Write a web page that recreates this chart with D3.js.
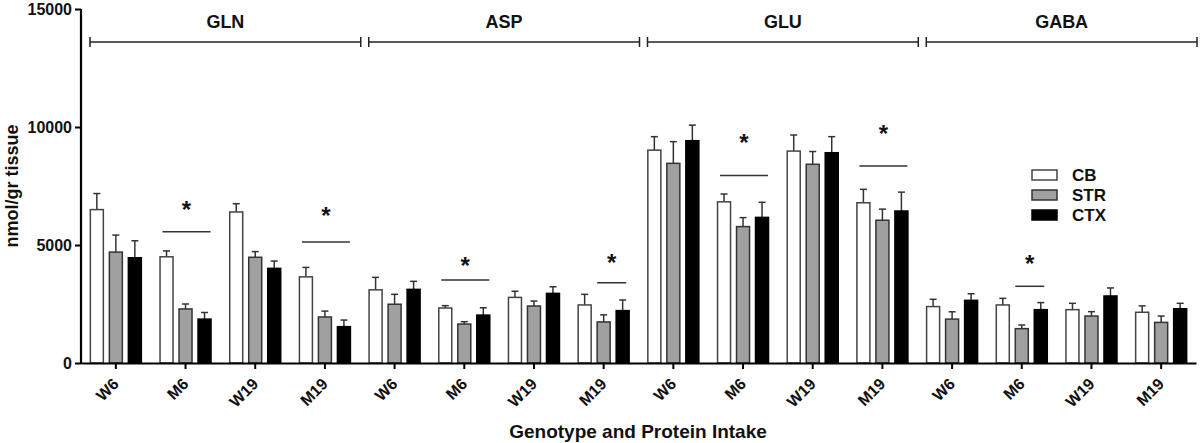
<!DOCTYPE html>
<html>
<head>
<meta charset="utf-8">
<script src="https://cdn.jsdelivr.net/npm/d3@7"></script>
<style>
  body { margin: 0; background: #fff; }
  svg text { font-family: "Liberation Sans", Arial, sans-serif; font-weight: bold; fill: #111; }
</style>
</head>
<body>
<div class="chart"></div>
<script>
// amino acid groups, each split in 4 genotype / protein intake columns
var groups = ['GLN', 'ASP', 'GLU', 'GABA'];
var genotypes = ['W6', 'M6', 'W19', 'M19'];
var series = ['CB', 'STR', 'CTX'];

// means and error (SEM) per column, in order GLN W6..M19, ASP.., GLU.., GABA..
var cbMean  = [6500, 4500, 6400, 3650,  3100, 2330, 2780, 2460,  9020, 6830, 8980, 6790,  2390, 2460, 2260, 2150];
var cbErr   = [ 680,  250,  350,  400,   530,  100,  260,  450,   570,  330,  680,  570,   310,  280,  270,  270];
var strMean = [4700, 2290, 4480, 1950,  2490, 1650, 2415, 1740,  8460, 5780, 8420, 6050,  1860, 1455, 1990, 1720];
var strErr  = [ 720,  210,  240,  250,   420,  100,  210,  300,   920,  380,  540,  470,   310,  155,  185,  270];
var ctxMean = [4460, 1860, 4010, 1540,  3120, 2030, 2950, 2220,  9420, 6170, 8910, 6440,  2655, 2260, 2840, 2300];
var ctxErr  = [ 720,  280,  310,  280,   340,  310,  280,  450,   660,  640,  680,  800,   280,  300,  340,  230];

// significance marks: column index, level of the line, level of the star
var sigColumn = [1, 3, 5, 7, 9, 11, 13];
var sigLine   = [5560, 5130, 3520, 3400, 7950, 8350, 3250];
var sigStar   = [6700, 6450, 4320, 4450, 9530, 9910, 4410];

var yTicks = [0, 5000, 10000, 15000];

var chart = {
  width: 1200,
  height: 443,
  left: 81,
  right: 1196,
  top: 9,
  bottom: 363
};

var fills = { CB: '#ffffff', STR: '#a0a0a0', CTX: '#000000' };
var strokes = { CB: '#444', STR: '#333', CTX: '#000' };

var means = { CB: cbMean, STR: strMean, CTX: ctxMean };
var errs = { CB: cbErr, STR: strErr, CTX: ctxErr };

// flat list of the 16 columns
var columns = [];
groups.forEach(function(g, gi){
  genotypes.forEach(function(t, ti){
    columns.push({ id: gi * 4 + ti, group: g, label: t });
  });
});

var svg = d3.select('.chart')
  .append('svg')
  .attr('width', chart.width)
  .attr('height', chart.height);

var x = d3.scaleBand()
  .domain(columns.map(function(c){ return c.id; }))
  .range([chart.left, chart.right])
  .padding(0);

var xInner = d3.scaleBand()
  .domain(series)
  .range([-25.5, 25.5])
  .paddingInner(0.316);

var y = d3.scaleLinear()
  .domain([0, 15000])
  .range([chart.bottom, chart.top]);

// bars + error bars
var bars = [];
columns.forEach(function(c){
  series.forEach(function(s){
    bars.push({ col: c.id, s: s, v: means[s][c.id], e: errs[s][c.id] });
  });
});

function barMid(d){
  return x(d.col) + x.bandwidth() / 2 + xInner(d.s) + xInner.bandwidth() / 2;
}

var barG = svg.append('g');

barG.selectAll('line.err')
  .data(bars)
  .enter().append('line')
  .attr('class', 'err')
  .attr('x1', barMid)
  .attr('x2', barMid)
  .attr('y1', function(d){ return y(d.v); })
  .attr('y2', function(d){ return y(d.v + d.e); })
  .attr('stroke', '#333')
  .attr('stroke-width', 1.5);

barG.selectAll('line.cap')
  .data(bars)
  .enter().append('line')
  .attr('class', 'cap')
  .attr('x1', function(d){ return barMid(d) - 3.5; })
  .attr('x2', function(d){ return barMid(d) + 3.5; })
  .attr('y1', function(d){ return y(d.v + d.e); })
  .attr('y2', function(d){ return y(d.v + d.e); })
  .attr('stroke', '#333')
  .attr('stroke-width', 1.5);

barG.selectAll('rect')
  .data(bars)
  .enter().append('rect')
  .attr('x', function(d){ return x(d.col) + x.bandwidth() / 2 + xInner(d.s); })
  .attr('y', function(d){ return y(d.v); })
  .attr('width', xInner.bandwidth())
  .attr('height', function(d){ return y(0) - y(d.v); })
  .attr('fill', function(d){ return fills[d.s]; })
  .attr('stroke', function(d){ return strokes[d.s]; })
  .attr('stroke-width', 1.5);

// axes
var yAxis = svg.append('g')
  .attr('transform', 'translate(' + chart.left + ',0)')
  .call(d3.axisLeft(y).tickValues(yTicks).tickSize(6).tickPadding(3).tickFormat(d3.format('d')));
yAxis.select('.domain').attr('stroke', '#000').attr('stroke-width', 2.2).attr('d', 'M0,' + (chart.bottom + 1) + 'V' + chart.top);
yAxis.selectAll('.tick line').attr('stroke', '#000').attr('stroke-width', 2);
yAxis.selectAll('.tick text').attr('font-size', 16).attr('fill', '#111');

var xAxis = svg.append('g')
  .attr('transform', 'translate(0,' + chart.bottom + ')')
  .call(d3.axisBottom(x).tickSizeInner(6).tickSizeOuter(0).tickFormat(function(d){ return columns[d].label; }));
xAxis.select('.domain').attr('stroke', '#000').attr('stroke-width', 2.2);
xAxis.selectAll('.tick line').attr('stroke', '#000').attr('stroke-width', 2);
xAxis.selectAll('.tick text')
  .attr('font-size', 16)
  .attr('fill', '#111')
  .attr('text-anchor', 'end')
  .attr('dy', null)
  .attr('y', 0)
  .attr('transform', 'translate(4,22) rotate(-45)');

// axis titles
svg.append('text')
  .attr('x', 638)
  .attr('y', 438)
  .attr('text-anchor', 'middle')
  .attr('font-size', 19)
  .text('Genotype and Protein Intake');

svg.append('text')
  .attr('transform', 'translate(18,186) rotate(-90)')
  .attr('text-anchor', 'middle')
  .attr('font-size', 18)
  .text('nmol/gr tissue');

// group brackets along the top
var bracketY = 42;
var brackets = svg.append('g').selectAll('g')
  .data(groups)
  .enter().append('g');

function bx0(gi){ return x(gi * 4) + 9; }
function bx1(gi){ return x(gi * 4 + 3) + x.bandwidth() + 1; }

brackets.append('line')
  .attr('x1', function(d, i){ return bx0(i); })
  .attr('x2', function(d, i){ return bx1(i); })
  .attr('y1', bracketY).attr('y2', bracketY)
  .attr('stroke', '#222').attr('stroke-width', 1.5);
brackets.append('line')
  .attr('x1', function(d, i){ return bx0(i); })
  .attr('x2', function(d, i){ return bx0(i); })
  .attr('y1', bracketY - 5).attr('y2', bracketY + 5)
  .attr('stroke', '#222').attr('stroke-width', 1.5);
brackets.append('line')
  .attr('x1', function(d, i){ return bx1(i); })
  .attr('x2', function(d, i){ return bx1(i); })
  .attr('y1', bracketY - 5).attr('y2', bracketY + 5)
  .attr('stroke', '#222').attr('stroke-width', 1.5);
brackets.append('text')
  .attr('x', function(d, i){ return (bx0(i) + bx1(i)) / 2; })
  .attr('y', 28)
  .attr('text-anchor', 'middle')
  .attr('font-size', 18)
  .text(function(d){ return d; });

// significance lines and stars
var sig = sigColumn.map(function(c, i){
  var narrow = (c === 7 || c === 13);
  return { col: c, line: sigLine[i], star: sigStar[i], half: narrow ? 14.5 : 24, shift: narrow ? 8 : 1 };
});

var sigG = svg.append('g').selectAll('g')
  .data(sig)
  .enter().append('g');

sigG.append('line')
  .attr('x1', function(d){ return x(d.col) + x.bandwidth() / 2 + d.shift - d.half; })
  .attr('x2', function(d){ return x(d.col) + x.bandwidth() / 2 + d.shift + d.half; })
  .attr('y1', function(d){ return y(d.line); })
  .attr('y2', function(d){ return y(d.line); })
  .attr('stroke', '#333').attr('stroke-width', 1.5);

sigG.append('text')
  .attr('x', function(d){ return x(d.col) + x.bandwidth() / 2 + d.shift; })
  .attr('y', function(d){ return y(d.star) + 13; })
  .attr('text-anchor', 'middle')
  .attr('font-size', 24)
  .text('*');

// legend
var legend = svg.append('g').selectAll('g')
  .data(series)
  .enter().append('g')
  .attr('transform', function(d, i){ return 'translate(1032,' + (175 + i * 20) + ')'; });

legend.append('rect')
  .attr('x', 0).attr('y', -5)
  .attr('width', 25).attr('height', 10)
  .attr('fill', function(d){ return fills[d]; })
  .attr('stroke', function(d){ return strokes[d]; })
  .attr('stroke-width', 1.5);

legend.append('text')
  .attr('x', 40)
  .attr('y', 6)
  .attr('font-size', 17)
  .text(function(d){ return d; });
</script>
</body>
</html>
